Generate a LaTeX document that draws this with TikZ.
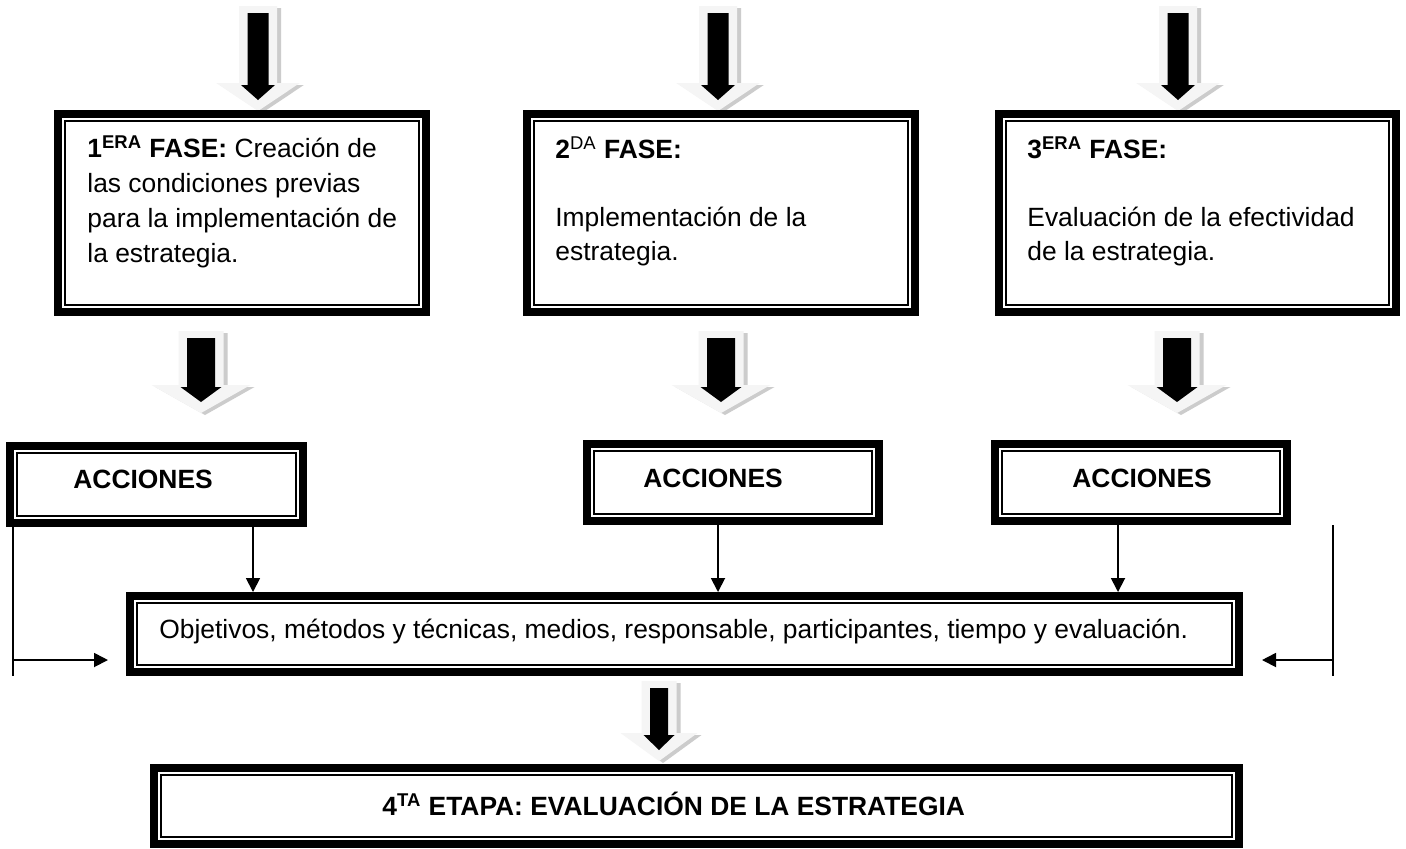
\documentclass[tikz,border=0pt]{standalone}
\usepackage{fontspec}
\setmainfont{Liberation Sans}
\usetikzlibrary{fit,arrows.meta,calc}
\tikzset{
  bx/.style={draw, line width=4pt, inner sep=0pt, outer sep=2pt},
  inbx/.style={draw, line width=1pt},
  txt/.style={inner sep=0pt, anchor=base west, font=\fontsize{13.2}{17.5}\selectfont},
  conn/.style={line width=0.9pt, -{Triangle[length=7pt,width=7pt]}},
  side/.style={line width=0.9pt},
  lightarr/.style={fill=gray!8},
  shadarr/.style={fill=gray!40},
}
\newcommand{\dbox}[5]{%
  \node[bx, fit={(#2+4,#3+4) (#4-4,#5-4)}] (#1) {};
  \draw[inbx] ($(#1.north west)+(11,11)$) rectangle ($(#1.south east)+(-11,-11)$);
}
\newcommand{\barrow}[4]{%
  \pgfmathsetmacro\ls{#4+8.5}%
  \pgfmathsetmacro\lh{2.2*(#4+8.5)}%
  \pgfmathsetmacro\bh{#4+6.5}%
  \begin{scope}[shift={(#1,0)}]
    \fill[shadarr] (-\ls+4,#2-5) -- (\ls+4,#2-5) -- (\ls+4,#3-15) -- (\lh+4,#3-15) -- (4,#3+13) -- (-\lh+4,#3-15) -- (-\ls+4,#3-15) -- cycle;
    \fill[lightarr] (-\ls,#2-7) -- (\ls,#2-7) -- (\ls,#3-17) -- (\lh,#3-17) -- (0,#3+11) -- (-\lh,#3-17) -- (-\ls,#3-17) -- cycle;
    \fill[black] (-#4,#2) -- (#4,#2) -- (#4,#3-15) -- (\bh,#3-15) -- (0,#3) -- (-\bh,#3-15) -- (-#4,#3-15) -- cycle;
  \end{scope}
}
\begin{document}
\begin{tikzpicture}[x=0.5pt,y=-0.5pt]
\fill[white] (0,0) rectangle (1406,848);
\useasboundingbox (0,0) rectangle (1406,848);

% top arrows
\barrow{258}{13}{100}{10.5}
\barrow{718}{13}{100}{10.5}
\barrow{1178}{13}{100}{10.5}

% phase boxes
\dbox{f1}{54}{110}{430}{316}
\dbox{f2}{523}{110}{919}{316}
\dbox{f3}{995}{110}{1400}{316}

\node[txt] (f1a) at (87,157) {\textbf{1\textsuperscript{ERA} FASE:} Creación de};
\node[txt] (f1b) at (87,192) {las condiciones previas};
\node[txt] (f1c) at (87,227) {para la implementación de};
\node[txt] (f1d) at (87,262) {la estrategia.};

\node[txt] (f2a) at (555,158) {\textbf{2}\textsuperscript{DA} \textbf{FASE:}};
\node[txt] (f2b) at (555,226) {Implementación de la};
\node[txt] (f2c) at (555,260) {estrategia.};

\node[txt] (f3a) at (1027,158) {\textbf{3\textsuperscript{ERA} FASE:}};
\node[txt] (f3b) at (1027,226) {Evaluación de la efectividad};
\node[txt] (f3c) at (1027,260) {de la estrategia.};

% middle arrows
\barrow{201}{338}{402}{14}
\barrow{721}{338}{402}{14}
\barrow{1177}{338}{402}{14}

% acciones boxes
\dbox{a1}{6}{442}{307}{527}
\dbox{a2}{583}{440}{883}{525}
\dbox{a3}{991}{440}{1291}{525}
\node[txt] (a1t) at (73,488) {\textbf{ACCIONES}};
\node[txt] (a2t) at (643,487) {\textbf{ACCIONES}};
\node[txt] (a3t) at (1072,487) {\textbf{ACCIONES}};

% central box
\dbox{cen}{126}{592}{1243}{676}
\node[txt] (cent) at (159,638) {Objetivos, métodos y técnicas, medios, responsable, participantes, tiempo y evaluación.};

% connectors
\coordinate (x1) at (253,0);
\coordinate (x2) at (718,0);
\coordinate (x3) at (1118,0);
\draw[conn] (a1.south -| x1) -- (cen.north -| x1);
\draw[conn] (a2.south -| x2) -- (cen.north -| x2);
\draw[conn] (a3.south -| x3) -- (cen.north -| x3);

\coordinate (lt) at (13,527);
\coordinate (lb) at (13,676);
\coordinate (lh) at (13,660);
\coordinate (le) at (108,660);
\coordinate (rt) at (1333,525);
\coordinate (rb) at (1333,676);
\coordinate (rh) at (1333,660);
\coordinate (re) at (1262,660);
\draw[side] (lt) -- (lb);
\draw[conn] (lh) -- (le);
\draw[side] (rt) -- (rb);
\draw[conn] (rh) -- (re);

% bottom arrow
\barrow{659}{688}{750}{9}

% bottom box
\dbox{fin}{150}{764}{1243}{848}
\node[txt] (fint) at (382,815) {\textbf{4\textsuperscript{TA} ETAPA: EVALUACIÓN DE LA ESTRATEGIA}};
\end{tikzpicture}
\end{document}
